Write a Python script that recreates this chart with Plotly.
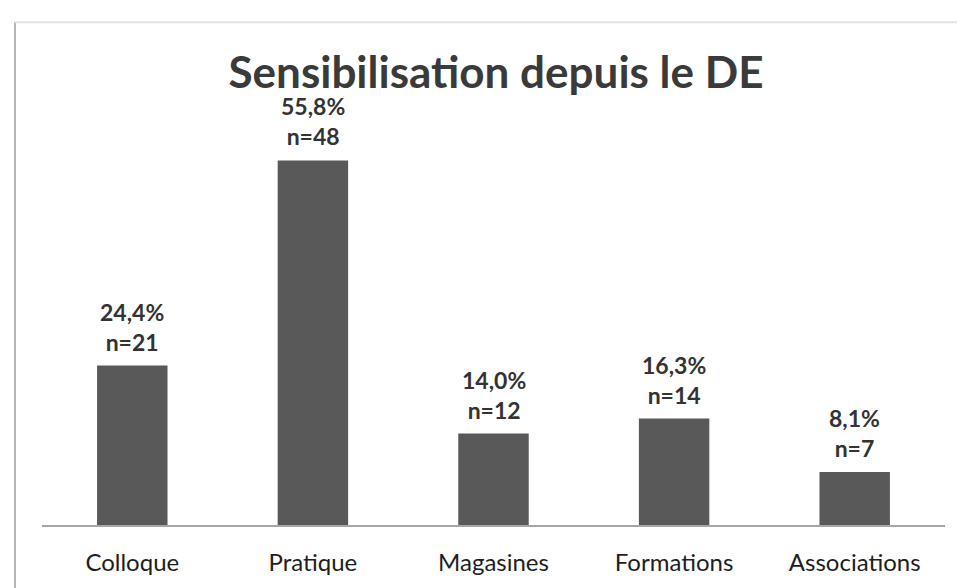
import plotly.graph_objects as go

categories = ["Colloque", "Pratique", "Magasines", "Formations", "Associations"]
percentages = [24.4, 55.8, 14.0, 16.3, 8.1]
counts = [21, 48, 12, 14, 7]

labels = ["<b>" + f"{p:.1f}".replace(".", ",") + f"%<br>n={n}</b>" for p, n in zip(percentages, counts)]

# page body margin: figure appears offset on screen
OX, OY = 8, 4
W, H = 957, 580
L, R, T, B = 34, 20, 125, 59

fig = go.Figure()
fig.add_trace(go.Bar(
    x=categories, y=percentages, width=0.39,
    marker=dict(color="#595959", line=dict(width=0)),
    hoverinfo="skip",
))

for c, p, lab in zip(categories, percentages, labels):
    fig.add_annotation(x=c, y=p, text=lab, showarrow=False, yanchor="bottom",
                       yshift=8, font=dict(family="Lato", size=23, color="#333333"),
                       align="center")

pw = W - L - R
ph = H - T - B
def px(x):
    return (x - OX - L) / pw
def py(y):
    return (H - B - (y - OY)) / ph

shapes = [
    dict(type="line", xref="paper", yref="paper", x0=px(15), x1=px(15), y0=py(17), y1=py(600),
         line=dict(color="#b5b5b5", width=2)),
    dict(type="line", xref="paper", yref="paper", x0=px(15), x1=px(962), y0=py(17), y1=py(17),
         line=dict(color="#e2e2e2", width=2)),
    dict(type="line", xref="paper", yref="paper", x0=px(962), x1=px(962), y0=py(17), y1=py(600),
         line=dict(color="#eeeeee", width=2)),
]

fig.update_layout(
    width=W, height=H,
    margin=dict(l=L, r=R, t=T, b=B),
    paper_bgcolor="white", plot_bgcolor="white",
    showlegend=False,
    title=dict(text="<b>Sensibilisation depuis le DE</b>", x=(496 - OX) / W, xanchor="center",
               y=1 - (69 - OY) / H, yanchor="middle",
               font=dict(family="Lato", size=44, color="#3a3a3a")),
    xaxis=dict(showline=True, linecolor="#a6a6a6", linewidth=1.5, showgrid=False,
               ticks="", ticklabelstandoff=15,
               tickfont=dict(family="Lato", size=24, color="#1e1e1e")),
    yaxis=dict(range=[0, 60], visible=False, showgrid=False),
    shapes=shapes,
    bargap=0.61,
)

fig.write_html("out.html")
